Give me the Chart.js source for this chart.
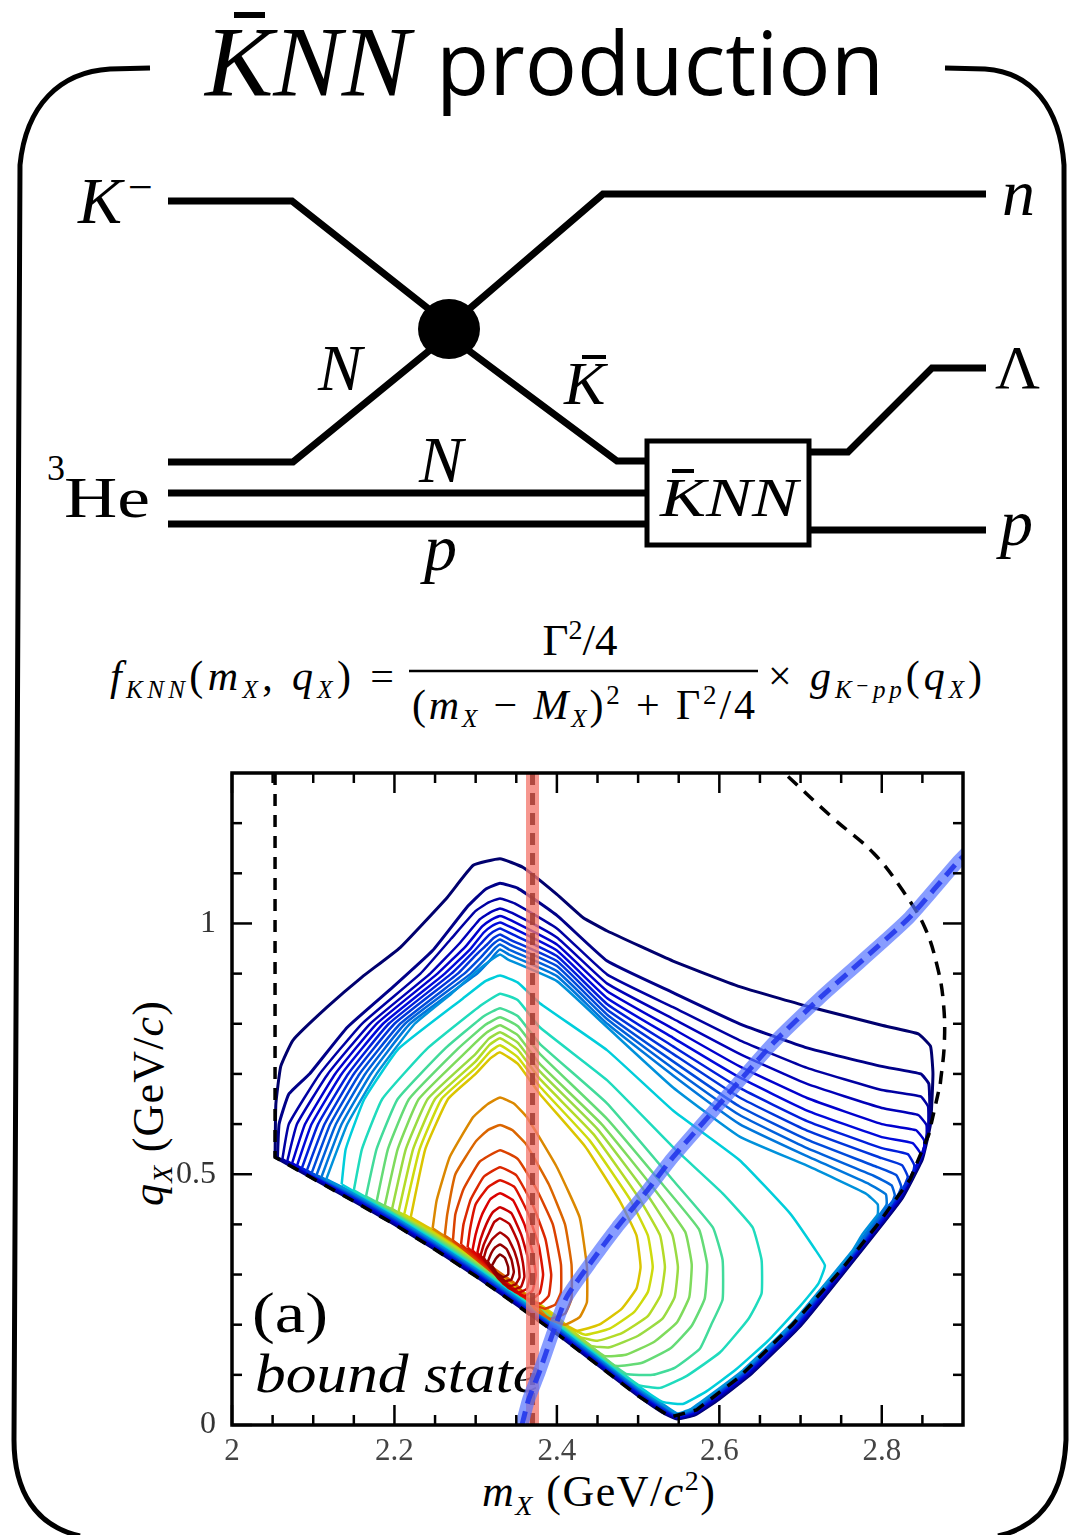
<!DOCTYPE html>
<html><head><meta charset="utf-8">
<script src="https://cdn.jsdelivr.net/npm/chart.js@4.4.1/dist/chart.umd.min.js"></script>
<style>
html,body{margin:0;padding:0;background:#fff;}
#wrap{position:relative;width:1069px;height:1535px;overflow:hidden;background:#fff;}
#deco{position:absolute;left:0;top:0;}
#c{position:absolute;left:0;top:0;}
text{font-family:"Liberation Serif","DejaVu Serif",serif;fill:#000;}
</style></head><body>
<div id="wrap">
<svg id="deco" width="1069" height="1535" xmlns="http://www.w3.org/2000/svg">
  <!-- frame -->
  <path d="M150,68 L110,69 C60,72 26,105 20,165 L14,1440 C14,1492 36,1526 80,1536" fill="none" stroke="#000" stroke-width="5"/>
  <path d="M945,68 L985,69 C1032,72 1060,108 1064,165 L1066,1440 C1064,1492 1042,1526 998,1536" fill="none" stroke="#000" stroke-width="5"/>
  <!-- title -->
  <text x="205" y="95" font-size="100" font-style="italic" textLength="205" lengthAdjust="spacingAndGlyphs">KNN</text>
  <rect x="234" y="12" width="31" height="6" fill="#000"/>
  <text x="436" y="95" font-size="88" style="font-family:'Open Sans',sans-serif" textLength="448" lengthAdjust="spacingAndGlyphs">production</text>
  <!-- Feynman diagram -->
  <g fill="none" stroke="#000" stroke-width="7" stroke-linejoin="miter">
    <polyline points="168,201 292,201 430,310"/>
    <polyline points="468,310 603,194 986,194"/>
    <polyline points="168,462 293,462 430,350"/>
    <polyline points="468,350 617,461 647,461"/>
    <line x1="168" y1="493" x2="647" y2="493"/>
    <line x1="168" y1="524" x2="647" y2="524"/>
    <polyline points="810,452 848,452 932,368 986,368"/>
    <line x1="810" y1="530" x2="986" y2="530"/>
  </g>
  <rect x="647" y="441" width="162" height="104" fill="#fff" stroke="#000" stroke-width="5"/>
  <ellipse cx="449" cy="329" rx="31" ry="30" fill="#000"/>
  <text x="660" y="516" font-size="54" font-style="italic" textLength="138" lengthAdjust="spacingAndGlyphs">KNN</text>
  <line x1="672" y1="471" x2="694" y2="471" stroke="#000" stroke-width="4"/>
  <text x="78" y="223" font-size="66" font-style="italic">K</text>
  <text x="128" y="202" font-size="44">−</text>
  <text x="1002" y="215" font-size="66" font-style="italic">n</text>
  <text x="995" y="388" font-size="62">Λ</text>
  <text x="1000" y="545" font-size="66" font-style="italic">p</text>
  <text x="318" y="390" font-size="66" font-style="italic">N</text>
  <text x="564" y="404" font-size="62" font-style="italic">K</text>
  <line x1="582" y1="357" x2="606" y2="357" stroke="#000" stroke-width="4"/>
  <text x="419" y="482" font-size="66" font-style="italic">N</text>
  <text x="424" y="570" font-size="66" font-style="italic">p</text>
  <text x="47" y="480" font-size="36">3</text>
  <text x="64" y="517" font-size="58" textLength="86" lengthAdjust="spacingAndGlyphs">He</text>
  <!-- formula -->
  <text y="690" font-size="42" textLength="284"><tspan x="110" font-style="italic">f</tspan><tspan font-size="25" dy="8" font-style="italic">KNN</tspan><tspan dy="-8">(</tspan><tspan font-style="italic">m</tspan><tspan font-size="25" dy="8" font-style="italic">X</tspan><tspan dy="-8">, </tspan><tspan font-style="italic">q</tspan><tspan font-size="25" dy="8" font-style="italic">X</tspan><tspan dy="-8">) =</tspan></text>
  <text x="580" y="655" font-size="45" text-anchor="middle">Γ<tspan font-size="28" dy="-16">2</tspan><tspan dy="16">/4</tspan></text>
  <line x1="409" y1="671" x2="758" y2="671" stroke="#000" stroke-width="2.5"/>
  <text x="412" y="719" font-size="42" textLength="343">(<tspan font-style="italic">m</tspan><tspan font-size="25" dy="8" font-style="italic">X</tspan><tspan dy="-8"> − </tspan><tspan font-style="italic">M</tspan><tspan font-size="25" dy="8" font-style="italic">X</tspan><tspan dy="-8">)</tspan><tspan font-size="27" dy="-15">2</tspan><tspan dy="15"> + Γ</tspan><tspan font-size="27" dy="-15">2</tspan><tspan dy="15">/4</tspan></text>
  <text x="768" y="690" font-size="42" textLength="214">× <tspan font-style="italic">g</tspan><tspan font-size="25" dy="8" font-style="italic">K⁻pp</tspan><tspan dy="-8">(</tspan><tspan font-style="italic">q</tspan><tspan font-size="25" dy="8" font-style="italic">X</tspan><tspan dy="-8">)</tspan></text>
  <!-- axis titles -->
  <text x="482" y="1506" font-size="44" textLength="233"><tspan font-style="italic">m</tspan><tspan font-size="28" dy="9" font-style="italic">X</tspan><tspan dy="-9"> (GeV/</tspan><tspan font-style="italic">c</tspan><tspan font-size="28" dy="-16">2</tspan><tspan dy="16">)</tspan></text>
  <text transform="translate(163,1206) rotate(-90)" font-size="44" textLength="205"><tspan font-style="italic">q</tspan><tspan font-size="28" dy="9" font-style="italic">X</tspan><tspan dy="-9"> (GeV/</tspan><tspan font-style="italic">c</tspan><tspan>)</tspan></text>
  <!-- in-plot annotations -->
  <text x="252" y="1332" font-size="58" textLength="76" lengthAdjust="spacingAndGlyphs">(a)</text>
  <text x="255" y="1392" font-size="54" font-style="italic" textLength="285" lengthAdjust="spacingAndGlyphs">bound state</text>
</svg>
<canvas id="c" width="1069" height="1535"></canvas>
</div>
<script>
// ---------------- data ----------------
const xTickValues = [2.0, 2.2, 2.4, 2.6, 2.8];
const xTickLabels = ["2", "2.2", "2.4", "2.6", "2.8"];
const yTickValues = [0, 0.5, 1.0];
const yTickLabels = ["0", "0.5", "1"];
const xMinorTicks = [2.05,2.1,2.15,2.25,2.3,2.35,2.45,2.5,2.55,2.65,2.7,2.75,2.85];
const yMinorTicks = [0.1,0.2,0.3,0.4,0.6,0.7,0.8,0.9,1.1,1.2];

// contour levels, outermost (lowest) first
const blueContours = [
 [[2.053,0.534],[2.054,0.640],[2.060,0.715],[2.075,0.767],[2.117,0.833],[2.160,0.893],[2.207,0.952],[2.265,1.052],[2.297,1.116],[2.330,1.129],[2.358,1.112],[2.400,1.058],[2.432,1.012],[2.462,0.985],[2.543,0.925],[2.625,0.874],[2.708,0.835],[2.800,0.797],[2.845,0.780],[2.860,0.755],[2.863,0.700],[2.860,0.600],[2.850,0.530],[2.825,0.452],[2.775,0.348],[2.700,0.198],[2.640,0.103],[2.600,0.052],[2.570,0.020],[2.548,0.012],[2.530,0.025],[2.500,0.058],[2.450,0.120],[2.400,0.182],[2.350,0.240],[2.300,0.297],[2.250,0.350],[2.200,0.400],[2.150,0.446],[2.100,0.491],[2.053,0.534]],
 [[2.056,0.533],[2.058,0.600],[2.070,0.660],[2.096,0.701],[2.142,0.793],[2.198,0.873],[2.247,0.946],[2.289,1.032],[2.312,1.068],[2.330,1.080],[2.352,1.070],[2.400,1.016],[2.462,0.925],[2.543,0.862],[2.625,0.800],[2.708,0.752],[2.800,0.715],[2.848,0.700],[2.858,0.680],[2.859,0.600],[2.849,0.530],[2.824,0.452],[2.774,0.348],[2.699,0.198],[2.639,0.104],[2.599,0.053],[2.569,0.021],[2.548,0.013],[2.530,0.027],[2.500,0.060],[2.450,0.122],[2.400,0.184],[2.350,0.242],[2.300,0.299],[2.250,0.352],[2.200,0.402],[2.150,0.448],[2.100,0.493],[2.056,0.533]],
 [[2.062,0.530],[2.070,0.600],[2.108,0.700],[2.160,0.800],[2.232,0.900],[2.270,0.970],[2.300,1.025],[2.316,1.042],[2.330,1.050],[2.348,1.040],[2.400,0.990],[2.462,0.898],[2.543,0.833],[2.625,0.767],[2.708,0.712],[2.800,0.668],[2.848,0.655],[2.857,0.635],[2.857,0.590],[2.848,0.530],[2.823,0.452],[2.773,0.348],[2.698,0.199],[2.638,0.104],[2.598,0.054],[2.569,0.022],[2.548,0.014],[2.530,0.028],[2.500,0.061],[2.450,0.123],[2.400,0.185],[2.350,0.243],[2.300,0.300],[2.250,0.353],[2.200,0.403],[2.150,0.449],[2.100,0.494],[2.062,0.530]],
 [[2.068,0.526],[2.080,0.600],[2.118,0.700],[2.170,0.800],[2.244,0.900],[2.280,0.960],[2.305,1.008],[2.318,1.022],[2.330,1.030],[2.346,1.020],[2.400,0.972],[2.462,0.880],[2.543,0.810],[2.625,0.740],[2.708,0.680],[2.800,0.632],[2.845,0.618],[2.855,0.598],[2.855,0.570],[2.847,0.530],[2.822,0.452],[2.772,0.348],[2.697,0.199],[2.637,0.105],[2.597,0.055],[2.568,0.023],[2.548,0.015],[2.530,0.030],[2.500,0.063],[2.450,0.125],[2.400,0.187],[2.350,0.245],[2.300,0.302],[2.250,0.355],[2.200,0.405],[2.150,0.451],[2.100,0.496],[2.068,0.526]],
 [[2.074,0.522],[2.090,0.600],[2.127,0.700],[2.178,0.800],[2.253,0.900],[2.288,0.955],[2.308,0.994],[2.319,1.007],[2.330,1.015],[2.345,1.005],[2.400,0.958],[2.462,0.865],[2.543,0.790],[2.625,0.715],[2.708,0.652],[2.800,0.600],[2.842,0.588],[2.852,0.568],[2.852,0.545],[2.846,0.528],[2.821,0.452],[2.771,0.348],[2.696,0.199],[2.636,0.105],[2.596,0.055],[2.568,0.024],[2.548,0.016],[2.530,0.031],[2.500,0.064],[2.450,0.126],[2.400,0.188],[2.350,0.246],[2.300,0.303],[2.250,0.356],[2.200,0.406],[2.150,0.452],[2.100,0.497],[2.074,0.522]],
 [[2.080,0.517],[2.098,0.600],[2.135,0.700],[2.186,0.800],[2.262,0.900],[2.294,0.950],[2.310,0.982],[2.320,0.995],[2.330,1.002],[2.344,0.992],[2.400,0.946],[2.462,0.851],[2.543,0.772],[2.625,0.693],[2.708,0.627],[2.800,0.574],[2.838,0.562],[2.848,0.540],[2.845,0.522],[2.820,0.452],[2.770,0.348],[2.695,0.200],[2.635,0.106],[2.595,0.056],[2.567,0.025],[2.548,0.017],[2.530,0.033],[2.500,0.066],[2.450,0.128],[2.400,0.190],[2.350,0.248],[2.300,0.305],[2.250,0.358],[2.200,0.408],[2.150,0.454],[2.100,0.499],[2.080,0.517]],
 [[2.086,0.512],[2.106,0.600],[2.143,0.700],[2.193,0.800],[2.270,0.900],[2.298,0.945],[2.312,0.970],[2.321,0.983],[2.330,0.990],[2.343,0.980],[2.400,0.935],[2.462,0.839],[2.543,0.755],[2.625,0.672],[2.708,0.606],[2.800,0.552],[2.832,0.540],[2.840,0.518],[2.838,0.500],[2.819,0.452],[2.769,0.348],[2.694,0.200],[2.634,0.106],[2.594,0.057],[2.567,0.026],[2.548,0.018],[2.530,0.034],[2.500,0.067],[2.450,0.129],[2.400,0.191],[2.350,0.249],[2.300,0.306],[2.250,0.359],[2.200,0.409],[2.150,0.455],[2.100,0.500],[2.086,0.512]],
 [[2.092,0.507],[2.114,0.600],[2.150,0.700],[2.200,0.800],[2.278,0.900],[2.302,0.940],[2.314,0.958],[2.322,0.971],[2.330,0.978],[2.342,0.968],[2.400,0.925],[2.462,0.828],[2.543,0.740],[2.625,0.653],[2.708,0.587],[2.800,0.532],[2.825,0.518],[2.832,0.495],[2.828,0.478],[2.816,0.450],[2.768,0.348],[2.693,0.200],[2.633,0.107],[2.593,0.057],[2.566,0.027],[2.548,0.019],[2.530,0.036],[2.500,0.069],[2.450,0.131],[2.400,0.193],[2.350,0.251],[2.300,0.308],[2.250,0.361],[2.200,0.411],[2.150,0.457],[2.092,0.507]],
 [[2.098,0.502],[2.121,0.600],[2.157,0.700],[2.207,0.800],[2.286,0.900],[2.306,0.932],[2.316,0.950],[2.323,0.961],[2.330,0.968],[2.342,0.958],[2.400,0.915],[2.462,0.818],[2.543,0.725],[2.625,0.635],[2.708,0.569],[2.795,0.514],[2.818,0.498],[2.824,0.475],[2.820,0.458],[2.810,0.440],[2.767,0.348],[2.692,0.201],[2.632,0.107],[2.592,0.058],[2.566,0.028],[2.548,0.020],[2.530,0.037],[2.500,0.070],[2.450,0.132],[2.400,0.194],[2.350,0.252],[2.300,0.309],[2.250,0.362],[2.200,0.412],[2.150,0.458],[2.098,0.502]],
 [[2.104,0.498],[2.128,0.600],[2.164,0.700],[2.213,0.800],[2.294,0.900],[2.310,0.926],[2.318,0.940],[2.324,0.951],[2.330,0.958],[2.341,0.948],[2.400,0.905],[2.462,0.809],[2.543,0.711],[2.625,0.618],[2.708,0.552],[2.790,0.497],[2.812,0.478],[2.816,0.458],[2.812,0.442],[2.800,0.420],[2.766,0.348],[2.691,0.201],[2.631,0.108],[2.591,0.059],[2.565,0.029],[2.548,0.021],[2.530,0.039],[2.500,0.072],[2.450,0.134],[2.400,0.196],[2.350,0.254],[2.300,0.311],[2.250,0.364],[2.200,0.414],[2.150,0.460],[2.104,0.498]],
 [[2.110,0.494],[2.135,0.600],[2.171,0.700],[2.219,0.800],[2.302,0.900],[2.314,0.920],[2.320,0.931],[2.325,0.941],[2.330,0.948],[2.341,0.938],[2.400,0.895],[2.462,0.800],[2.543,0.697],[2.625,0.600],[2.708,0.536],[2.785,0.480],[2.805,0.460],[2.806,0.440],[2.800,0.425],[2.788,0.400],[2.765,0.348],[2.690,0.201],[2.630,0.108],[2.590,0.059],[2.565,0.030],[2.548,0.022],[2.530,0.040],[2.500,0.073],[2.450,0.135],[2.400,0.197],[2.350,0.255],[2.300,0.312],[2.250,0.365],[2.200,0.415],[2.150,0.461],[2.110,0.494]],
 [[2.116,0.490],[2.142,0.600],[2.178,0.700],[2.225,0.800],[2.270,0.860],[2.300,0.903],[2.318,0.926],[2.330,0.938],[2.340,0.928],[2.400,0.885],[2.462,0.793],[2.543,0.673],[2.625,0.575],[2.708,0.517],[2.780,0.462],[2.795,0.440],[2.795,0.420],[2.788,0.405],[2.776,0.380],[2.764,0.348],[2.689,0.202],[2.629,0.109],[2.589,0.060],[2.564,0.031],[2.548,0.023],[2.530,0.042],[2.500,0.075],[2.450,0.137],[2.400,0.199],[2.350,0.257],[2.300,0.314],[2.250,0.367],[2.200,0.417],[2.150,0.463],[2.116,0.490]]
];
const greenContours = [
 [[2.135,0.480],[2.140,0.550],[2.163,0.650],[2.205,0.750],[2.284,0.850],[2.312,0.885],[2.330,0.896],[2.352,0.882],[2.379,0.841],[2.462,0.747],[2.543,0.627],[2.625,0.528],[2.687,0.422],[2.718,0.350],[2.730,0.318],[2.722,0.282],[2.700,0.238],[2.660,0.168],[2.620,0.110],[2.585,0.068],[2.555,0.042],[2.530,0.046],[2.500,0.078],[2.450,0.140],[2.400,0.202],[2.350,0.260],[2.300,0.317],[2.250,0.370],[2.200,0.420],[2.150,0.466],[2.135,0.480]],
 [[2.150,0.468],[2.160,0.550],[2.185,0.650],[2.240,0.750],[2.305,0.835],[2.330,0.860],[2.352,0.847],[2.379,0.793],[2.462,0.687],[2.543,0.554],[2.604,0.462],[2.641,0.394],[2.652,0.329],[2.652,0.262],[2.636,0.212],[2.601,0.145],[2.560,0.098],[2.527,0.074],[2.500,0.080],[2.450,0.142],[2.400,0.204],[2.350,0.262],[2.300,0.319],[2.250,0.372],[2.200,0.422],[2.150,0.468]],
 [[2.165,0.456],[2.178,0.550],[2.204,0.650],[2.262,0.750],[2.310,0.815],[2.330,0.831],[2.352,0.815],[2.379,0.760],[2.462,0.641],[2.543,0.488],[2.592,0.394],[2.604,0.329],[2.604,0.250],[2.590,0.200],[2.576,0.152],[2.545,0.114],[2.518,0.100],[2.485,0.102],[2.450,0.144],[2.400,0.206],[2.350,0.264],[2.300,0.321],[2.250,0.374],[2.200,0.424],[2.165,0.456]],
 [[2.178,0.445],[2.192,0.550],[2.218,0.650],[2.278,0.750],[2.312,0.798],[2.330,0.813],[2.352,0.795],[2.379,0.740],[2.462,0.610],[2.530,0.480],[2.575,0.390],[2.585,0.320],[2.582,0.252],[2.566,0.198],[2.540,0.153],[2.505,0.124],[2.472,0.118],[2.450,0.146],[2.400,0.208],[2.350,0.266],[2.300,0.323],[2.250,0.376],[2.200,0.426],[2.178,0.445]],
 [[2.188,0.437],[2.204,0.550],[2.230,0.650],[2.292,0.750],[2.314,0.783],[2.330,0.797],[2.352,0.777],[2.379,0.720],[2.455,0.600],[2.520,0.470],[2.558,0.385],[2.566,0.320],[2.563,0.255],[2.548,0.205],[2.520,0.166],[2.485,0.140],[2.458,0.138],[2.400,0.210],[2.350,0.268],[2.300,0.325],[2.250,0.378],[2.200,0.428],[2.188,0.437]],
 [[2.197,0.430],[2.214,0.550],[2.241,0.650],[2.300,0.740],[2.316,0.770],[2.330,0.783],[2.352,0.762],[2.379,0.705],[2.450,0.590],[2.510,0.462],[2.542,0.380],[2.549,0.315],[2.545,0.255],[2.530,0.212],[2.500,0.178],[2.465,0.155],[2.442,0.158],[2.400,0.212],[2.350,0.270],[2.300,0.327],[2.250,0.380],[2.197,0.430]],
 [[2.205,0.425],[2.223,0.550],[2.250,0.650],[2.300,0.725],[2.317,0.758],[2.330,0.771],[2.352,0.748],[2.379,0.690],[2.445,0.580],[2.500,0.455],[2.527,0.378],[2.533,0.315],[2.528,0.260],[2.512,0.217],[2.480,0.183],[2.450,0.168],[2.428,0.176],[2.400,0.214],[2.350,0.272],[2.300,0.329],[2.250,0.382],[2.205,0.425]],
 [[2.212,0.420],[2.231,0.550],[2.258,0.650],[2.300,0.712],[2.318,0.745],[2.330,0.757],[2.352,0.733],[2.379,0.675],[2.440,0.568],[2.490,0.450],[2.512,0.378],[2.518,0.315],[2.512,0.265],[2.495,0.225],[2.465,0.192],[2.435,0.180],[2.415,0.194],[2.400,0.216],[2.350,0.274],[2.300,0.331],[2.250,0.384],[2.212,0.420]],
 [[2.220,0.414],[2.238,0.550],[2.266,0.650],[2.300,0.700],[2.318,0.731],[2.330,0.743],[2.352,0.720],[2.379,0.660],[2.435,0.555],[2.478,0.445],[2.498,0.378],[2.503,0.315],[2.498,0.272],[2.480,0.232],[2.452,0.200],[2.425,0.188],[2.405,0.205],[2.350,0.276],[2.300,0.333],[2.250,0.386],[2.220,0.414]]
];
const orangeContours = [
 [[2.247,0.392],[2.252,0.448],[2.268,0.534],[2.297,0.614],[2.315,0.640],[2.330,0.653],[2.347,0.641],[2.363,0.614],[2.400,0.514],[2.428,0.414],[2.437,0.315],[2.437,0.245],[2.428,0.215],[2.410,0.200],[2.390,0.212],[2.350,0.278],[2.300,0.335],[2.247,0.392]],
 [[2.262,0.378],[2.265,0.420],[2.275,0.500],[2.300,0.565],[2.315,0.588],[2.330,0.598],[2.345,0.588],[2.362,0.560],[2.390,0.480],[2.410,0.400],[2.418,0.320],[2.418,0.252],[2.410,0.222],[2.392,0.212],[2.375,0.228],[2.350,0.280],[2.300,0.337],[2.262,0.378]]
];
const redContours = [
 [[2.272,0.368],[2.275,0.420],[2.285,0.470],[2.305,0.525],[2.330,0.548],[2.352,0.530],[2.375,0.470],[2.395,0.400],[2.405,0.320],[2.405,0.265],[2.398,0.240],[2.385,0.232],[2.372,0.240],[2.320,0.305],[2.272,0.368]],
 [[2.282,0.360],[2.285,0.400],[2.294,0.450],[2.310,0.495],[2.330,0.514],[2.350,0.498],[2.370,0.440],[2.386,0.370],[2.393,0.300],[2.390,0.258],[2.380,0.242],[2.366,0.248],[2.320,0.308],[2.282,0.360]],
 [[2.290,0.354],[2.293,0.390],[2.300,0.440],[2.315,0.474],[2.330,0.488],[2.348,0.474],[2.365,0.420],[2.378,0.355],[2.383,0.300],[2.379,0.264],[2.368,0.250],[2.356,0.258],[2.320,0.310],[2.290,0.354]],
 [[2.296,0.348],[2.300,0.380],[2.308,0.420],[2.318,0.450],[2.330,0.462],[2.346,0.448],[2.360,0.400],[2.370,0.345],[2.374,0.300],[2.370,0.268],[2.360,0.257],[2.348,0.266],[2.320,0.312],[2.296,0.348]],
 [[2.302,0.343],[2.306,0.370],[2.313,0.400],[2.321,0.424],[2.330,0.434],[2.344,0.422],[2.356,0.380],[2.364,0.335],[2.367,0.298],[2.363,0.272],[2.353,0.264],[2.340,0.274],[2.320,0.314],[2.302,0.343]],
 [[2.306,0.338],[2.310,0.360],[2.317,0.385],[2.323,0.405],[2.330,0.412],[2.342,0.400],[2.352,0.365],[2.358,0.325],[2.360,0.296],[2.356,0.276],[2.346,0.270],[2.334,0.282],[2.306,0.338]],
 [[2.310,0.333],[2.313,0.350],[2.320,0.370],[2.330,0.384],[2.340,0.372],[2.348,0.345],[2.353,0.315],[2.354,0.294],[2.349,0.280],[2.340,0.277],[2.328,0.292],[2.310,0.333]],
 [[2.315,0.326],[2.319,0.342],[2.324,0.354],[2.330,0.360],[2.338,0.351],[2.344,0.330],[2.347,0.305],[2.344,0.290],[2.336,0.287],[2.325,0.300],[2.315,0.326]],
 [[2.320,0.318],[2.325,0.332],[2.330,0.340],[2.336,0.333],[2.340,0.315],[2.340,0.300],[2.334,0.295],[2.326,0.303],[2.320,0.318]]
];
// kinematic boundary (black dashed): straight part and upper-right arc
const boundaryEdge = [[2.053,1.30],[2.053,0.534],[2.100,0.491],[2.150,0.446],[2.200,0.400],[2.250,0.350],[2.300,0.297],[2.350,0.240],[2.400,0.182],[2.450,0.120],[2.500,0.058],[2.540,0.016],[2.572,0.030],[2.625,0.096],[2.690,0.200],[2.750,0.309],[2.795,0.400],[2.835,0.490],[2.858,0.580],[2.872,0.680]];
const boundaryArc = [[2.872,0.680],[2.877,0.760],[2.876,0.840],[2.869,0.910],[2.853,0.992],[2.826,1.065],[2.790,1.140],[2.740,1.210],[2.680,1.300]];
// vertical red band (resonance mass) and blue kinematic curve
const redLine = [[2.370,0.0],[2.370,1.30]];
const blueCurve = [[2.357,0.0],[2.365,0.050],[2.378,0.104],[2.395,0.183],[2.412,0.255],[2.444,0.329],[2.474,0.394],[2.510,0.465],[2.543,0.534],[2.604,0.647],[2.666,0.761],[2.723,0.850],[2.775,0.925],[2.834,1.012],[2.892,1.120],[2.910,1.150]];

// ---------------- styles ----------------
const allContours = [...blueContours, ...greenContours, ...orangeContours, ...redContours];
const levelShade = [0.0,0.03,0.06,0.085,0.11,0.135,0.16,0.185,0.21,0.235,0.26,0.29,
                    0.36,0.41,0.45,0.49,0.52,0.55,0.58,0.61,0.65,
                    0.72,0.76,
                    0.80,0.83,0.855,0.875,0.895,0.915,0.935,0.955,0.975];
function jet(t){
  const cl=v=>Math.max(0,Math.min(1,v));
  const r=cl(1.5-Math.abs(4*t-3)), g=cl(1.5-Math.abs(4*t-2)), b=cl(1.5-Math.abs(4*t-1));
  const k=0.86;
  return `rgb(${Math.round(r*255*k)},${Math.round(g*255*k)},${Math.round(b*255*k)})`;
}
const toXY = arr => arr.map(p => ({x:p[0], y:p[1]}));

const datasets = [];
allContours.forEach((c,i)=>{
  datasets.push({data:toXY(c), showLine:true, pointRadius:0, borderColor:jet(levelShade[i]),
    borderWidth: i<2 ? 3 : 2.5, tension:0.12, fill:false, clip:0, order:200-i});
});
datasets.push({data:toXY(boundaryEdge), showLine:true, pointRadius:0, borderColor:'#000', borderWidth:3.5,
  borderDash:[12,9], fill:false, clip:0, order:50});
datasets.push({data:toXY(boundaryArc), showLine:true, pointRadius:0, borderColor:'#000', borderWidth:3.5,
  borderDash:[13,9], fill:false, clip:0, order:50, tension:0.4});
datasets.push({data:toXY(redLine), showLine:true, pointRadius:0, borderColor:'rgba(244,120,110,0.78)', borderWidth:13,
  fill:false, clip:0, order:40});
datasets.push({data:toXY(redLine), showLine:true, pointRadius:0, borderColor:'rgba(165,60,50,0.85)', borderWidth:5,
  borderDash:[12,8], fill:false, clip:0, order:39});
datasets.push({data:toXY(blueCurve), showLine:true, pointRadius:0, borderColor:'rgba(85,115,255,0.70)', borderWidth:13,
  fill:false, clip:0, order:30, tension:0.2});
datasets.push({data:toXY(blueCurve), showLine:true, pointRadius:0, borderColor:'rgba(35,55,235,0.9)', borderWidth:5,
  borderDash:[14,8], fill:false, clip:0, order:29, tension:0.2});

const framePlugin = {
  id:'frameTicks',
  afterDatasetsDraw(chart){
    const {ctx, chartArea:a, scales:{x,y}} = chart;
    ctx.save();
    ctx.strokeStyle='#000';
    const seg=(x1,y1,x2,y2)=>{ctx.beginPath();ctx.moveTo(x1,y1);ctx.lineTo(x2,y2);ctx.stroke();};
    ctx.lineWidth=2.5;
    xTickValues.forEach(v=>{const p=x.getPixelForValue(v); seg(p,a.bottom,p,a.bottom-20); seg(p,a.top,p,a.top+20);});
    xMinorTicks.forEach(v=>{const p=x.getPixelForValue(v); seg(p,a.bottom,p,a.bottom-10); seg(p,a.top,p,a.top+10);});
    yTickValues.forEach(v=>{const p=y.getPixelForValue(v); seg(a.left,p,a.left+20,p); seg(a.right,p,a.right-20,p);});
    yMinorTicks.forEach(v=>{const p=y.getPixelForValue(v); seg(a.left,p,a.left+10,p); seg(a.right,p,a.right-10,p);});
    ctx.lineWidth=3.5;
    ctx.strokeRect(a.left,a.top,a.right-a.left,a.bottom-a.top);
    ctx.restore();
  }
};

new Chart(document.getElementById('c'), {
  type:'scatter',
  data:{datasets},
  options:{
    responsive:false, animation:false, devicePixelRatio:1,
    layout:{padding:{left:0, right:106, top:773, bottom:0}},
    plugins:{legend:{display:false}, tooltip:{enabled:false}},
    scales:{
      x:{type:'linear', min:2.0, max:2.9,
        grid:{display:false}, border:{display:false},
        afterBuildTicks:s=>{s.ticks = xTickValues.map(v=>({value:v}));},
        afterFit:s=>{s.height=110;},
        ticks:{autoSkip:false, maxRotation:0, padding:0, color:'#444',
          font:{family:'Liberation Serif', size:31},
          callback:(v,i)=>xTickLabels[i]}},
      y:{type:'linear', min:0, max:1.3,
        grid:{display:false}, border:{display:false},
        afterBuildTicks:s=>{s.ticks = yTickValues.map(v=>({value:v}));},
        afterFit:s=>{s.width=232;},
        ticks:{autoSkip:false, padding:8, color:'#333',
          font:{family:'Liberation Serif', size:32},
          callback:(v,i)=>yTickLabels[i]}}
    }
  },
  plugins:[framePlugin]
});
</script>
</body></html>
